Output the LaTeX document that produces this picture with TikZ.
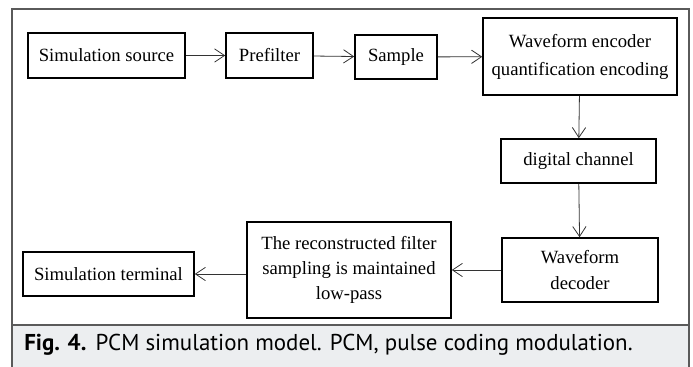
\documentclass[tikz,border=0pt]{standalone}
\usepackage{fontspec}
\setmainfont{Liberation Serif}
\newfontfamily\capfont{PT Sans}
\usepackage{tikz}
\usetikzlibrary{arrows.meta, positioning, calc}
\definecolor{framegray}{HTML}{5A5A5A}
\definecolor{capband}{HTML}{ECEEF0}

\tikzset{
  block/.style={draw=black, line width=1.2pt, align=center, inner sep=2pt,
                font=\fontsize{14}{19}\selectfont},
  flow/.style={draw=black!80, line width=0.6pt,
               -{Straight Barb[length=7.5pt, width=10pt, line width=0.6pt]}}
}

\begin{document}
\begin{tikzpicture}[x=0.75pt, y=-0.75pt]
    % page and frame
    \useasboundingbox (0,0) rectangle (693,367);
    \fill[capband] (12,325) rectangle (689,367);
    \draw[framegray, line width=1pt] (12,367) -- (12,9) -- (689,9) -- (689,367);
    \draw[framegray, line width=1pt] (12,325) -- (689,325);

    % transmitter row
    \node[block, minimum width=117.75pt, minimum height=33.75pt] (src) at (106.5,55.5) {Simulation source};
    \node[block, minimum width=65.25pt, minimum height=33.75pt] (pre) at (269.5,55.5) {Prefilter};
    \node[block, minimum width=61.5pt, minimum height=33pt] (smp) at (396,57) {Sample};
    \node[block, minimum width=145.5pt, minimum height=57.75pt,
          font=\fontsize{14}{21}\selectfont] (enc) at (580,56.5)
      {Waveform encoder\\quantification encoding};

    % channel
    \node[block, minimum width=116.25pt, minimum height=33pt] (chn) at (578.5,161) {digital channel};

    % receiver row
    \node[block, minimum width=117pt, minimum height=48pt] (dec) at (580,270) {Waveform\\decoder};
    \node[block, minimum width=153pt, minimum height=72pt] (rec) at (349,270)
      {The reconstructed filter\\sampling is maintained\\low-pass};
    \node[block, minimum width=128.25pt, minimum height=33pt] (term) at (108.5,274) {Simulation terminal};

    % connectors
    \draw[flow] (src) -- (pre);
    \draw[flow] (pre) -- (smp);
    \draw[flow] (smp) -- (enc);
    \draw[flow] (enc) -- (chn);
    \draw[flow] (chn) -- (dec);
    \draw[flow] (dec) -- (rec);
    \draw[flow] (rec.west |- term.east) -- (term.east);

    % caption
    \node[anchor=base west, inner sep=0pt, font=\capfont\fontsize{17.2}{20}\selectfont] (cap) at (24,350)
      {\textbf{Fig. 4.}\hspace{7pt}PCM simulation model. PCM, pulse coding modulation.};
  \end{tikzpicture}
\end{document}
